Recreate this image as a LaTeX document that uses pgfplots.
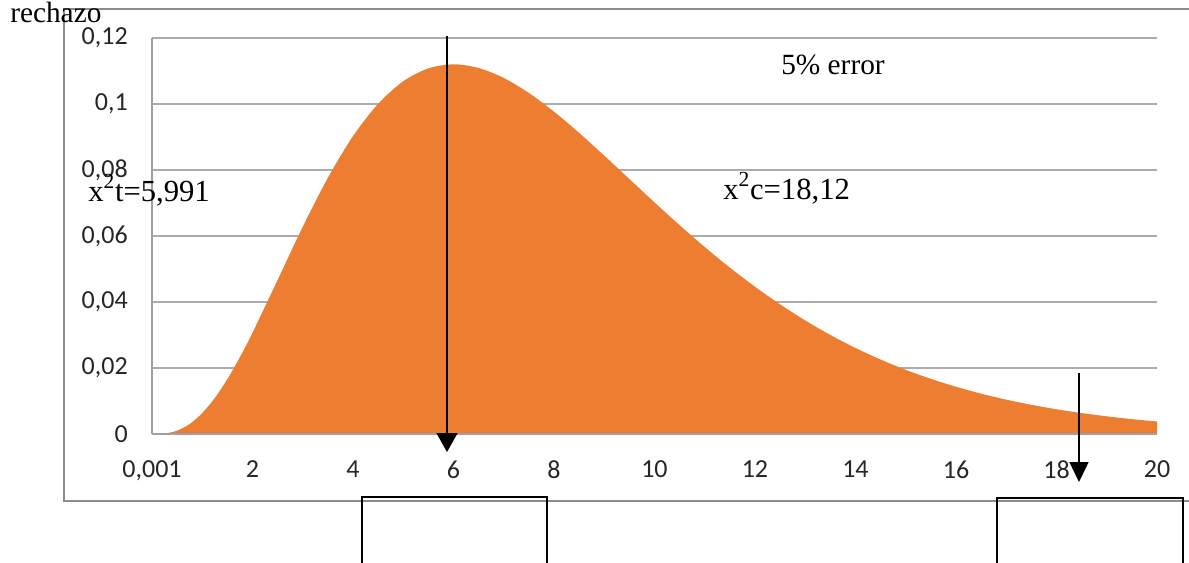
\documentclass[border=0pt]{standalone}
\usepackage{fontspec}
\setmainfont{Liberation Serif}
\newfontfamily\calibri{Carlito}
\usepackage{pgfplots}
\pgfplotsset{compat=1.18}
\usetikzlibrary{arrows.meta}
\definecolor{xlorange}{HTML}{ED7D31}
\definecolor{gridgray}{RGB}{172,172,172}
\definecolor{axisgray}{RGB}{160,160,160}
\definecolor{framegray}{RGB}{140,140,140}
\begin{document}
\begin{tikzpicture}[x=0.75pt,y=0.75pt]
\path[use as bounding box] (0,0) rectangle (1189,562);
\draw[framegray, line width=0.8pt] (1200,553)--(64,553)--(64,61)--(1200,61);
\begin{axis}[
  at={(114pt,96pt)}, anchor=south west,
  scale only axis, width=753.75pt, height=297pt,
  xmin=0.001, xmax=20, ymin=0, ymax=0.12,
  axis x line=bottom, axis y line=left,
  axis line style={axisgray, line width=0.8pt, -},
  ymajorgrids, major grid style={gridgray, line width=0.8pt},
  major tick length=0pt,
  xtick={0.001,2,4,6,8,10,12,14,16,18,20},
  xticklabels={0{,}001,2,4,6,8,10,12,14,16,18,20},
  ytick={0,0.02,0.04,0.06,0.08,0.1,0.12},
  yticklabels={0,0{,}02,0{,}04,0{,}06,0{,}08,0{,}1,0{,}12},
  ticklabel style={font=\calibri\fontsize{19.5}{21}\selectfont, inner sep=0pt, text=black!85},
  xticklabel style={anchor=north, yshift=-20pt},
  yticklabel style={anchor=east, xshift=-18pt},
]
\addplot[fill=xlorange, draw=none, smooth] coordinates {
(0.001,0) (0.25,0.000144) (0.5,0.001014) (0.75,0.003020) (1,0.006318)
(1.25,0.010890) (1.5,0.016607) (1.75,0.023272) (2,0.030657) (2.5,0.046631)
(3,0.062755) (3.5,0.077610) (4,0.090224) (4.5,0.100047) (5,0.106882)
(5.5,0.110792) (6,0.112021) (6.5,0.110920) (7,0.107893) (7.5,0.103350)
(8,0.097684) (8.5,0.091251) (9,0.084359) (9.5,0.077269) (10,0.070187)
(10.5,0.063277) (11,0.056662) (11.5,0.050424) (12,0.044618) (12.5,0.039276)
(13,0.034406) (13.5,0.030009) (14,0.026065) (14.5,0.022552) (15,0.019444)
(15.5,0.016709) (16,0.014313) (16.5,0.012225) (17,0.010413) (17.5,0.008846)
(18,0.007497) (18.5,0.006339) (19,0.005348) (19.5,0.004503) (20,0.003783)
} \closedcycle;
\end{axis}
\draw[axisgray, line width=0.8pt] (152,128) -- (1157,128);
\node[anchor=base west, inner sep=0pt, font=\fontsize{22}{25}\selectfont] at (10,539) {rechazo};
\node[anchor=base west, inner sep=0pt, font=\fontsize{22}{25}\selectfont] at (781,488) {5\% error};
\node[anchor=base west, inner sep=0pt, font=\fontsize{23}{26}\selectfont] at (88,361) {x\textsuperscript{2}t=5,991};
\node[anchor=base west, inner sep=0pt, font=\fontsize{23}{26}\selectfont] at (723,363) {x\textsuperscript{2}c=18,12};
\draw[line width=1.1pt, -{Triangle[width=15.75pt,length=14.25pt]}] (447,526) -- (447,110);
\draw[line width=1.1pt, -{Triangle[width=14.25pt,length=15pt]}] (1079,189) -- (1079,80);
\draw[line width=1.7pt] (362,-13) -- (362,65) -- (547,65) -- (547,-13);
\draw[line width=1.7pt] (997,-13) -- (997,64) -- (1183,64) -- (1183,-13);
\end{tikzpicture}
\end{document}
